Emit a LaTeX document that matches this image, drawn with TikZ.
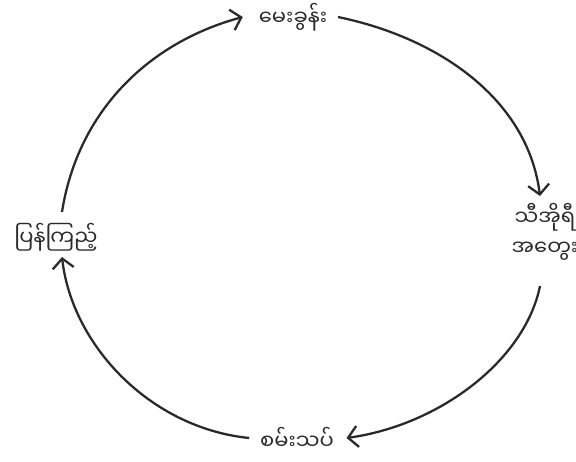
\documentclass[tikz,border=0pt]{standalone}
\usepackage{fontspec}
\usepackage{tikz}
\usetikzlibrary{arrows.meta}
\newfontfamily\mmfont[Script=Myanmar]{Noto Sans Myanmar UI}

\begin{document}
\begin{tikzpicture}[x=0.02cm,y=-0.02cm]
\definecolor{inkGray}{HTML}{2A2A2A}
\tikzset{
  stage/.style={font=\mmfont\fontsize{12}{17}\selectfont,text=inkGray,inner sep=2pt},
  flow/.style={draw=inkGray,line width=1.3pt,-{Straight Barb[length=5.5pt,width=12pt,line width=1.3pt]}}
}
\useasboundingbox (0,0) rectangle (576,461);
\node[stage] (question) at (293,17) {မေးခွန်း};
\node[stage,align=center] (theory) at (545,232) {သီအိုရီ\\အတွေး};
\node[stage] (review) at (56,237) {ပြန်ကြည့်};
\node[stage] (experiment) at (297,438) {စမ်းသပ်};
% cycle
\draw[flow] (62,212) .. controls (78,110) and (150,42) .. ([xshift=-7pt]question.west);
\draw[flow] ([xshift=4pt]question.east) .. controls (440,38) and (528,100) .. (540,196);
\draw[flow] (540,286) .. controls (525,360) and (440,425) .. ([xshift=5pt]experiment.east);
\draw[flow] ([xshift=-4pt]experiment.west) .. controls (150,428) and (72,345) .. (62,257);
\end{tikzpicture}
\end{document}
